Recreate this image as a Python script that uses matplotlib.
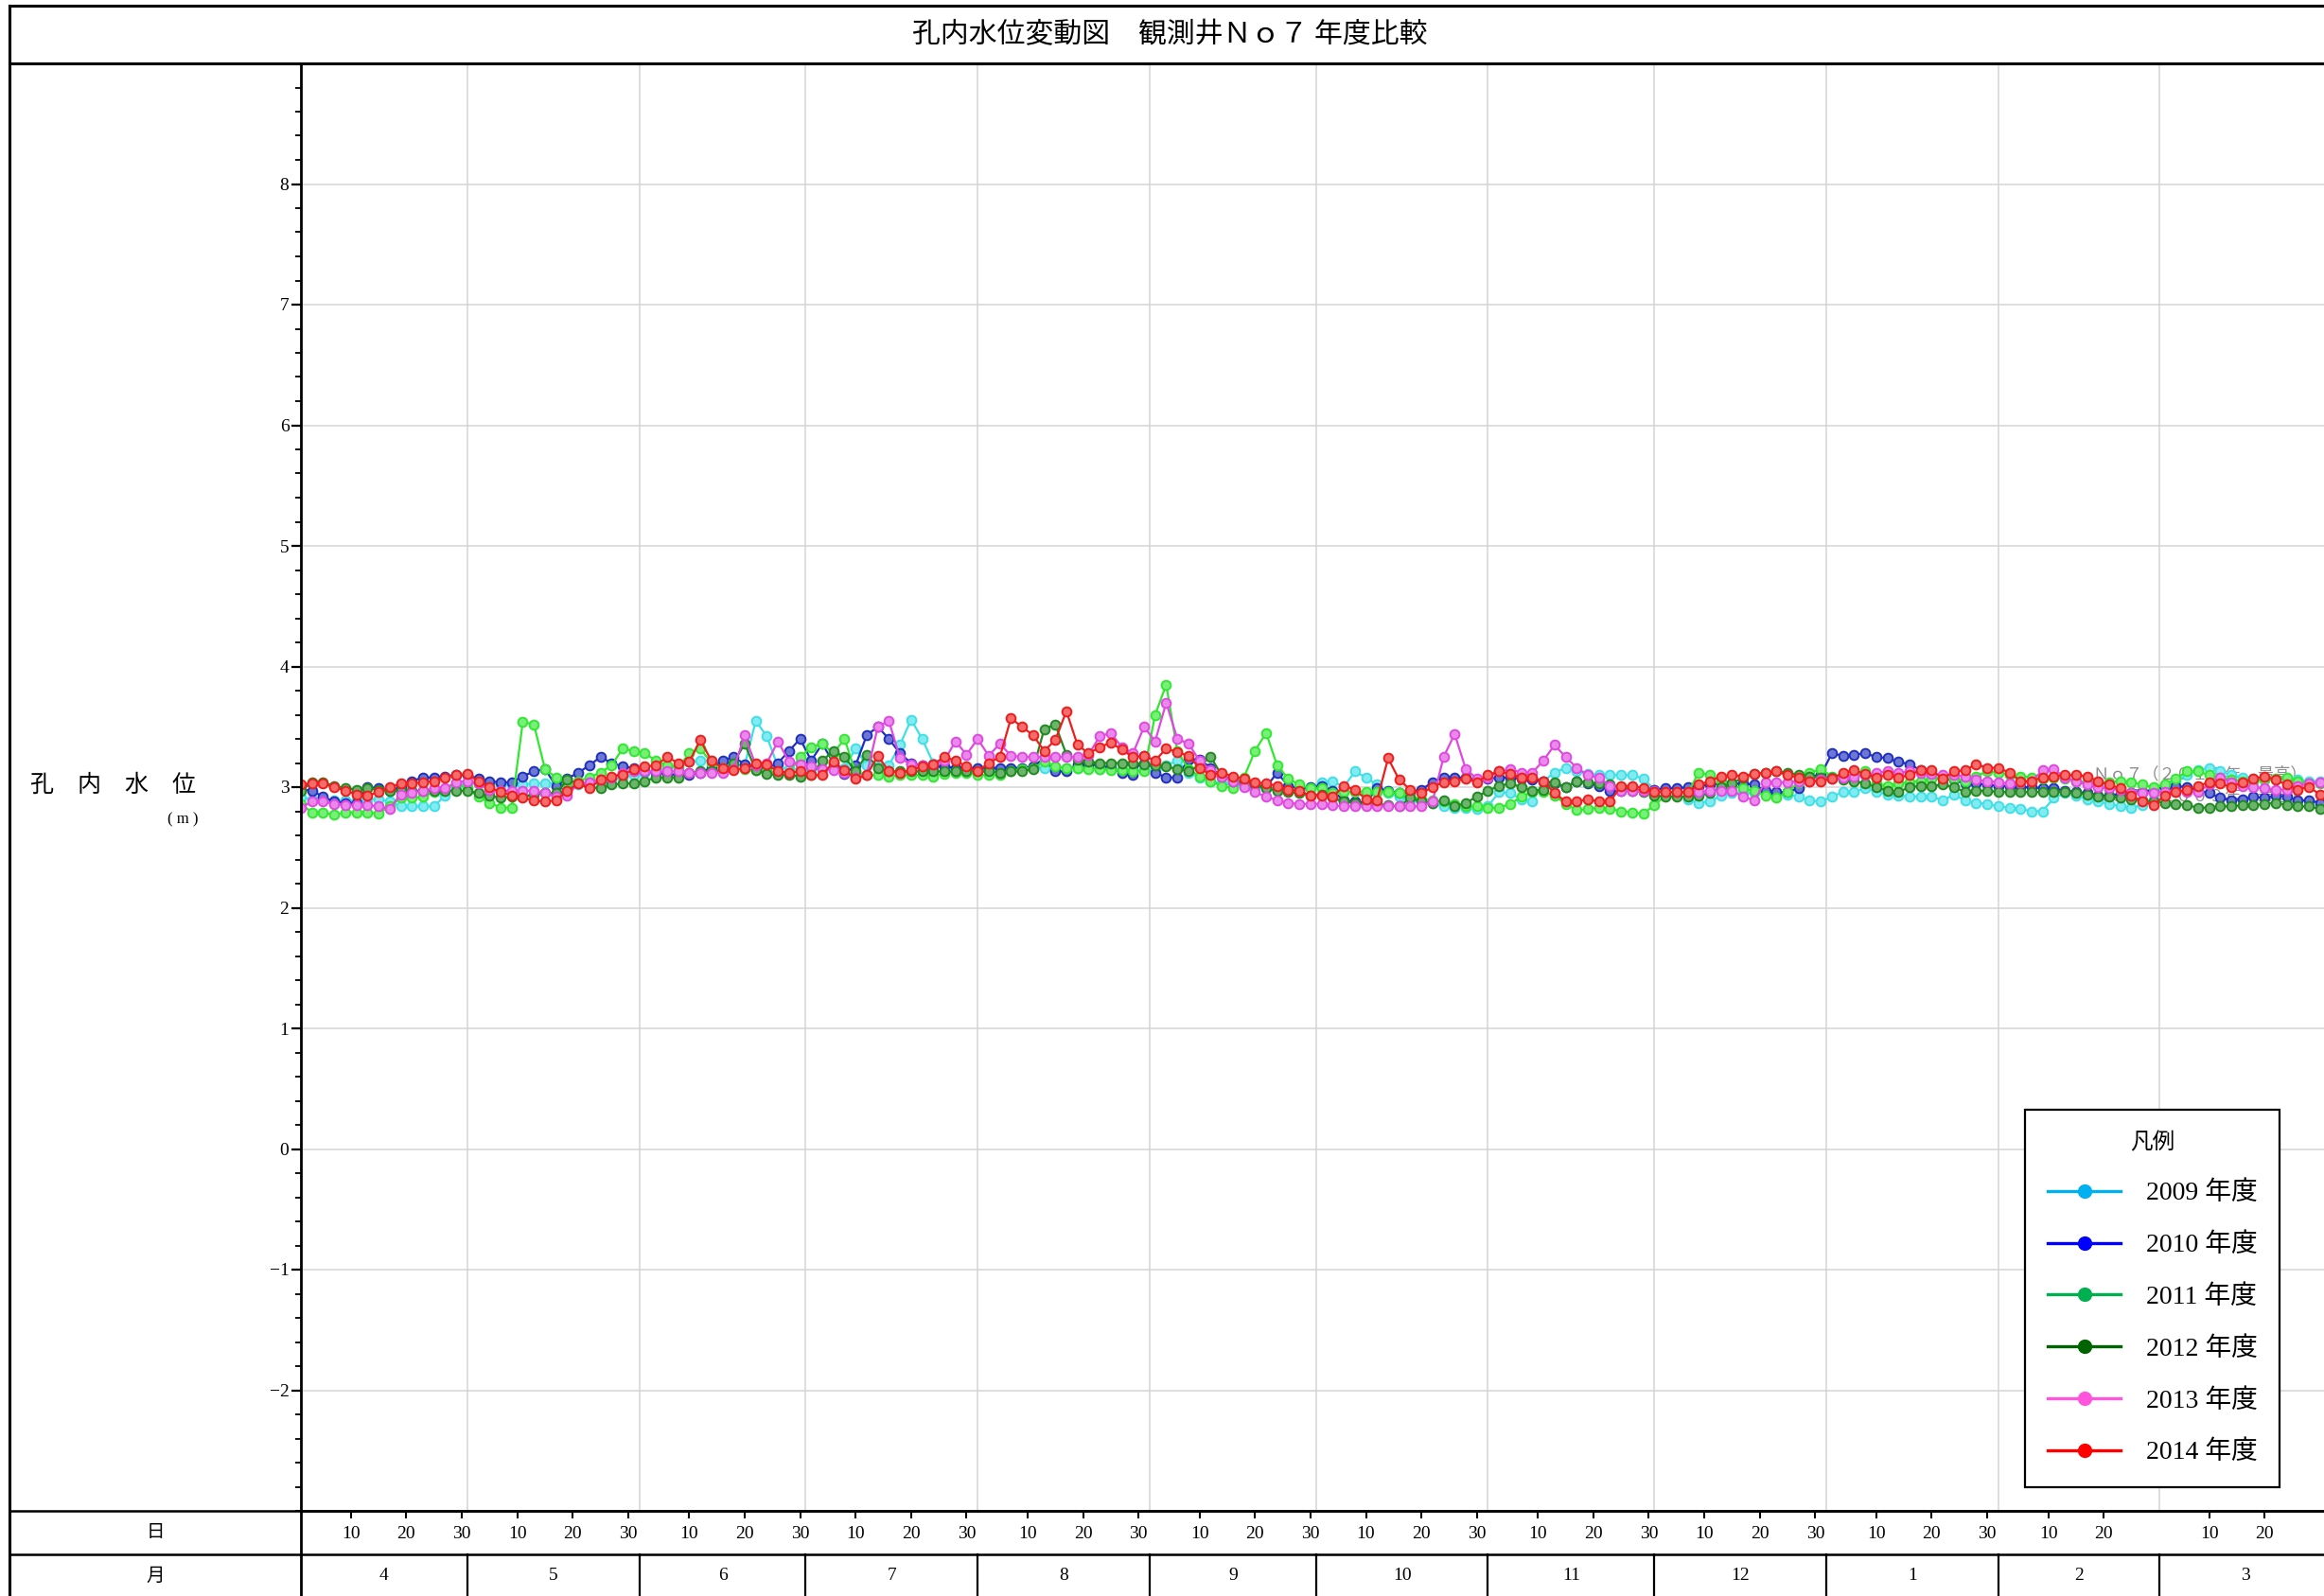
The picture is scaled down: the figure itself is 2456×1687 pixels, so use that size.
"""
Groundwater level comparison chart, observation well No.7, fiscal years 2009-2014.
"""

import matplotlib
matplotlib.use("Agg")
import matplotlib.pyplot as plt
import numpy as np
from matplotlib.colors import to_rgb
from matplotlib.lines import Line2D
from matplotlib.ticker import MultipleLocator
from matplotlib.transforms import blended_transform_factory

plt.rcParams["font.family"] = ["Liberation Serif", "Noto Sans CJK JP", "DejaVu Sans"]
CJK = ["Noto Sans CJK JP", "DejaVu Sans"]

W, H = 2456, 1687

TITLE = "孔内水位変動図　観測井Ｎｏ７ 年度比較"
YLABEL = "孔　内　水　位"
YUNIT = "( m )"
MONTHS = ["4", "5", "6", "7", "8", "9", "10", "11", "12", "1", "2", "3"]
MONTH_DAYS = [30, 31, 30, 31, 31, 30, 31, 30, 31, 31, 29, 31]
DAY_MARKS = [10, 20, 30]
YEARS = ["2009 年度", "2010 年度", "2011 年度", "2012 年度", "2013 年度", "2014 年度"]

# readings every second day from 1 April (day 0) to 30 March (day 364)
level_2009 = [
    2.91, 2.90, 2.90, 2.89, 2.89, 2.89, 2.90, 2.90, 2.88, 2.84,
    2.84, 2.84, 2.84, 2.93, 3.01, 3.03, 3.03, 3.03, 3.02, 3.02,
    3.02, 3.03, 3.03, 3.03, 3.00, 3.02, 3.03, 3.04, 3.06, 3.08,
    3.10, 3.12, 3.14, 3.16, 3.18, 3.21, 3.22, 3.22, 3.19, 3.18,
    3.18, 3.55, 3.42, 3.17, 3.15, 3.15, 3.15, 3.15, 3.15, 3.16,
    3.32, 3.18, 3.18, 3.18, 3.35, 3.56, 3.40, 3.20, 3.16, 3.15,
    3.15, 3.15, 3.15, 3.15, 3.15, 3.15, 3.16, 3.16, 3.16, 3.16,
    3.16, 3.16, 3.15, 3.15, 3.14, 3.14, 3.14, 3.14, 3.18, 3.22,
    3.12, 3.08, 3.05, 3.03, 3.02, 3.01, 3.00, 2.99, 2.98, 2.97,
    2.97, 2.99, 3.04, 3.05, 3.00, 3.13, 3.08, 3.02, 2.95, 2.92,
    2.89, 2.88, 2.87, 2.84, 2.83, 2.83, 2.82, 2.84, 2.96, 2.95,
    2.90, 2.88, 3.05, 3.12, 3.16, 3.13, 3.11, 3.10, 3.10, 3.10,
    3.10, 3.07, 2.98, 2.96, 2.95, 2.90, 2.87, 2.88, 2.93, 2.95,
    2.95, 2.95, 2.95, 2.95, 2.94, 2.92, 2.89, 2.88, 2.92, 2.96,
    2.96, 2.99, 2.96, 2.94, 2.93, 2.92, 2.92, 2.92, 2.89, 2.94,
    2.89, 2.87, 2.86, 2.84, 2.83, 2.82, 2.80, 2.80, 2.91, 2.95,
    2.93, 2.90, 2.88, 2.86, 2.84, 2.83, 2.85, 2.90, 2.97, 3.05,
    3.10, 3.14, 3.16, 3.13, 3.10, 3.08, 3.07, 3.06, 3.06, 3.07,
    3.06, 3.05, 3.05,
]
level_2010 = [
    2.98, 2.97, 2.92, 2.88, 2.87, 2.87, 3.00, 2.99, 2.97, 3.00,
    3.05, 3.08, 3.08, 3.09, 3.10, 3.10, 3.07, 3.05, 3.04, 3.04,
    3.09, 3.13, 3.15, 3.01, 3.07, 3.12, 3.18, 3.25, 3.20, 3.17,
    3.16, 3.13, 3.12, 3.11, 3.10, 3.10, 3.12, 3.16, 3.22, 3.25,
    3.19, 3.16, 3.16, 3.20, 3.30, 3.40, 3.22, 3.36, 3.20, 3.11,
    3.18, 3.43, 3.50, 3.40, 3.28, 3.20, 3.18, 3.17, 3.17, 3.16,
    3.16, 3.16, 3.16, 3.16, 3.16, 3.16, 3.17, 3.24, 3.13, 3.13,
    3.19, 3.19, 3.18, 3.16, 3.12, 3.10, 3.26, 3.12, 3.08, 3.08,
    3.23, 3.23, 3.16, 3.09, 3.06, 3.04, 3.02, 3.00, 3.12, 3.01,
    2.99, 3.00, 3.01, 2.97, 2.89, 2.88, 2.87, 2.99, 2.97, 2.95,
    2.96, 2.98, 3.04, 3.08, 3.08, 3.08, 3.06, 3.07, 3.08, 3.08,
    3.07, 3.06, 3.05, 3.03, 3.00, 3.05, 3.03, 3.01, 2.97, 2.97,
    2.97, 2.98, 2.98, 2.99, 2.99, 3.00, 3.01, 3.02, 3.03, 3.03,
    3.03, 3.02, 2.97, 2.96, 2.96, 2.99, 3.09, 3.10, 3.28, 3.26,
    3.27, 3.28, 3.25, 3.24, 3.21, 3.19, 3.14, 3.08, 3.07, 3.06,
    3.03, 3.03, 3.02, 3.01, 3.01, 3.00, 3.00, 2.99, 2.99, 2.97,
    2.96, 2.95, 2.93, 2.93, 2.94, 2.95, 2.96, 2.98, 3.00, 3.01,
    3.00, 2.97, 2.95, 2.91, 2.89, 2.90, 2.92, 2.91, 2.93, 2.92,
    2.89, 2.89, 2.87,
]
level_2011 = [
    2.86, 2.79, 2.79, 2.77, 2.79, 2.79, 2.79, 2.78, 2.84, 2.91,
    2.91, 2.92, 2.96, 2.97, 3.03, 2.99, 2.92, 2.87, 2.83, 2.83,
    3.54, 3.52, 3.15, 3.08, 3.04, 3.05, 3.08, 3.12, 3.18, 3.32,
    3.30, 3.28, 3.22, 3.18, 3.16, 3.28, 3.32, 3.20, 3.16, 3.15,
    3.15, 3.14, 3.13, 3.12, 3.12, 3.25, 3.33, 3.36, 3.28, 3.40,
    3.12, 3.10, 3.10, 3.09, 3.10, 3.10, 3.10, 3.09, 3.11, 3.12,
    3.12, 3.10, 3.10, 3.10, 3.13, 3.15, 3.16, 3.21, 3.17, 3.16,
    3.16, 3.15, 3.15, 3.14, 3.14, 3.13, 3.13, 3.60, 3.85, 3.30,
    3.15, 3.09, 3.05, 3.01, 2.99, 3.08, 3.30, 3.45, 3.18, 3.07,
    3.02, 2.99, 2.99, 2.95, 2.96, 2.96, 2.96, 2.96, 2.96, 2.95,
    2.92, 2.90, 2.89, 2.88, 2.86, 2.84, 2.84, 2.83, 2.83, 2.86,
    2.92, 2.96, 2.96, 2.93, 2.86, 2.81, 2.82, 2.83, 2.82, 2.80,
    2.79, 2.78, 2.85, 2.93, 2.95, 2.95, 3.12, 3.10, 3.05, 3.01,
    2.99, 2.97, 2.93, 2.91, 2.96, 3.04, 3.12, 3.15, 3.09, 3.09,
    3.09, 3.13, 3.03, 3.01, 3.03, 3.04, 3.05, 3.07, 3.08, 3.07,
    3.05, 3.09, 3.13, 3.12, 3.10, 3.09, 3.08, 3.07, 3.08, 3.07,
    3.05, 3.04, 3.03, 3.04, 3.05, 3.04, 3.02, 3.00, 3.02, 3.07,
    3.13, 3.13, 3.10, 3.08, 3.06, 3.05, 3.05, 3.06, 3.07, 3.08,
    3.05, 3.03, 3.03,
]
level_2012 = [
    2.97, 3.04, 3.04, 3.01, 2.99, 2.98, 2.99, 2.98, 2.97, 2.97,
    2.97, 2.97, 2.97, 2.97, 2.97, 2.97, 2.95, 2.93, 2.91, 2.92,
    2.92, 2.94, 2.95, 2.95, 3.06, 3.03, 3.00, 2.99, 3.02, 3.03,
    3.03, 3.05, 3.08, 3.08, 3.08, 3.12, 3.13, 3.13, 3.14, 3.20,
    3.36, 3.14, 3.11, 3.10, 3.10, 3.09, 3.10, 3.22, 3.30, 3.25,
    3.13, 3.27, 3.16, 3.13, 3.13, 3.13, 3.13, 3.13, 3.13, 3.13,
    3.13, 3.13, 3.13, 3.12, 3.13, 3.13, 3.15, 3.48, 3.52, 3.27,
    3.23, 3.21, 3.20, 3.20, 3.20, 3.20, 3.19, 3.18, 3.17, 3.15,
    3.13, 3.18, 3.25, 3.10, 3.05, 3.04, 3.02, 2.99, 2.97, 2.96,
    2.95, 2.93, 2.94, 2.91, 2.88, 2.87, 2.86, 2.86, 2.85, 2.84,
    2.91, 2.88, 2.87, 2.89, 2.84, 2.87, 2.92, 2.97, 3.01, 3.03,
    3.00, 2.97, 2.98, 3.04, 3.00, 3.05, 3.04, 3.03, 3.02, 3.00,
    2.98, 2.96, 2.93, 2.92, 2.92, 2.92, 2.93, 2.95, 3.00, 3.03,
    3.08, 3.11, 3.12, 3.13, 3.12, 3.10, 3.09, 3.08, 3.08, 3.06,
    3.05, 3.03, 3.00, 2.97, 2.96, 3.00, 3.01, 3.01, 3.02, 3.00,
    2.96, 2.97, 2.97, 2.96, 2.96, 2.96, 2.96, 2.96, 2.96, 2.96,
    2.95, 2.94, 2.92, 2.92, 2.91, 2.90, 2.89, 2.88, 2.87, 2.86,
    2.85, 2.83, 2.83, 2.84, 2.84, 2.85, 2.85, 2.86, 2.87, 2.85,
    2.84, 2.84, 2.82,
]
level_2013 = [
    2.83, 2.88, 2.88, 2.86, 2.85, 2.85, 2.85, 2.84, 2.82, 2.94,
    2.95, 2.97, 2.99, 2.99, 3.04, 3.05, 3.03, 2.98, 2.97, 2.97,
    2.97, 2.97, 2.95, 2.92, 2.93, 3.03, 3.04, 3.06, 3.08, 3.12,
    3.13, 3.13, 3.13, 3.13, 3.13, 3.12, 3.12, 3.12, 3.12, 3.15,
    3.43, 3.18, 3.20, 3.38, 3.21, 3.19, 3.17, 3.15, 3.14, 3.12,
    3.08, 3.10, 3.50, 3.55, 3.24, 3.19, 3.18, 3.19, 3.22, 3.38,
    3.27, 3.40, 3.26, 3.36, 3.26, 3.25, 3.25, 3.25, 3.25, 3.25,
    3.25, 3.27, 3.42, 3.45, 3.33, 3.28, 3.50, 3.38, 3.70, 3.40,
    3.36, 3.22, 3.14, 3.09, 3.05, 3.00, 2.96, 2.92, 2.89, 2.87,
    2.86, 2.86, 2.86, 2.85, 2.84, 2.84, 2.84, 2.84, 2.84, 2.84,
    2.84, 2.84, 2.88, 3.25, 3.44, 3.15, 3.07, 3.08, 3.13, 3.15,
    3.12, 3.12, 3.22, 3.35, 3.25, 3.16, 3.10, 3.08, 3.01, 2.97,
    2.97, 2.97, 2.97, 2.96, 2.96, 2.96, 2.96, 2.97, 2.97, 2.97,
    2.92, 2.89, 3.04, 3.04, 3.04, 3.05, 3.05, 3.06, 3.07, 3.08,
    3.09, 3.10, 3.12, 3.13, 3.12, 3.13, 3.12, 3.11, 3.10, 3.10,
    3.09, 3.06, 3.05, 3.04, 3.03, 3.04, 3.05, 3.14, 3.15, 3.08,
    3.05, 3.02, 3.00, 2.99, 2.98, 2.95, 2.95, 2.95, 2.96, 2.96,
    2.96, 2.96, 3.02, 3.08, 3.04, 3.01, 3.00, 2.99, 2.98, 2.98,
    3.01, 3.03, 3.04,
]
level_2014 = [
    3.02, 3.03, 3.03, 3.00, 2.97, 2.94, 2.93, 2.96, 3.00, 3.03,
    3.03, 3.04, 3.05, 3.08, 3.10, 3.11, 3.05, 3.00, 2.96, 2.93,
    2.91, 2.89, 2.88, 2.89, 2.97, 3.03, 2.99, 3.06, 3.09, 3.10,
    3.15, 3.17, 3.18, 3.25, 3.20, 3.21, 3.39, 3.22, 3.16, 3.14,
    3.16, 3.20, 3.19, 3.13, 3.12, 3.13, 3.10, 3.10, 3.21, 3.14,
    3.07, 3.10, 3.26, 3.13, 3.12, 3.14, 3.17, 3.19, 3.25, 3.22,
    3.17, 3.13, 3.20, 3.25, 3.57, 3.50, 3.43, 3.30, 3.39, 3.63,
    3.35, 3.28, 3.33, 3.37, 3.31, 3.25, 3.26, 3.22, 3.32, 3.29,
    3.26, 3.16, 3.10, 3.12, 3.09, 3.07, 3.04, 3.03, 3.01, 2.98,
    2.97, 2.93, 2.93, 2.92, 3.01, 2.98, 2.90, 2.89, 3.24, 3.06,
    2.98, 2.95, 3.00, 3.04, 3.05, 3.07, 3.04, 3.10, 3.13, 3.11,
    3.08, 3.08, 3.05, 2.95, 2.88, 2.88, 2.90, 2.88, 2.88, 3.01,
    3.01, 2.99, 2.96, 2.96, 2.96, 2.96, 3.02, 3.05, 3.09, 3.10,
    3.09, 3.11, 3.12, 3.13, 3.10, 3.08, 3.05, 3.05, 3.07, 3.12,
    3.14, 3.11, 3.08, 3.10, 3.08, 3.10, 3.14, 3.14, 3.07, 3.13,
    3.14, 3.19, 3.16, 3.16, 3.12, 3.05, 3.05, 3.08, 3.09, 3.10,
    3.10, 3.09, 3.05, 3.02, 2.99, 2.93, 2.88, 2.85, 2.93, 2.96,
    2.98, 3.01, 3.04, 3.03, 3.00, 3.04, 3.07, 3.09, 3.06, 3.02,
    2.98, 3.00, 2.94,
]

LEVELS = [level_2009, level_2010, level_2011, level_2012, level_2013, level_2014]
LINE_COLORS = ["#3ee0e8", "#1f2fbf", "#30e830", "#1f8a1f", "#e048e0", "#ee1d1d"]
LEGEND_COLORS = ["#00b0f0", "#0000ff", "#00b050", "#006400", "#ff55dd", "#ff0000"]


def fx(px):
    return px / W


def fy(py):
    return 1 - py / H


def lighten(color, amount=0.35):
    r, g, b = to_rgb(color)
    return (r + (1 - r) * amount, g + (1 - g) * amount, b + (1 - b) * amount)


fig = plt.figure(figsize=(W / 100, H / 100), dpi=100)

# plot area; the scan cuts the frame just before the end of March
ax = fig.add_axes([fx(318), fy(1597), (2463.5 - 318) / W, (1597 - 67) / H])

days = np.arange(0, 366, 2)
for level, color in zip(LEVELS, LINE_COLORS):
    ax.plot(days, level, color=color, lw=1.6, marker="o", ms=7,
            mfc=lighten(color), mec=color, mew=1.4, zorder=2)

month_start = np.concatenate([[0], np.cumsum(MONTH_DAYS)[:-1]])

ax.set_xlim(0, sum(MONTH_DAYS))
ax.set_ylim(-3, 9)
ax.set_yticks(range(-2, 9))
ax.yaxis.set_minor_locator(MultipleLocator(0.2))
ax.tick_params(axis="y", which="major", length=7, width=1.6, labelsize=14, pad=2)
ax.tick_params(axis="y", which="minor", length=4, width=1.3)

tick_pos, tick_lab = [], []
for start, ndays in zip(month_start, MONTH_DAYS):
    for dm in DAY_MARKS:
        # the last March tick falls off the scanned sheet
        if dm <= ndays and start + dm - 1 < 362:
            tick_pos.append(start + dm - 1)
            tick_lab.append(str(dm))
ax.set_xticks(tick_pos)
ax.set_xticks(month_start[1:], minor=True)
ax.tick_params(axis="x", which="major", direction="out", length=6, width=1.5, labelbottom=False)
ax.tick_params(axis="x", which="minor", length=0)

ax.grid(True, which="minor", axis="x", color="#d4d4d4", lw=1.1)
ax.grid(True, which="major", axis="y", color="#d4d4d4", lw=1.1)
ax.set_axisbelow(True)

for side in ["top", "right"]:
    ax.spines[side].set_visible(False)
ax.spines["left"].set_linewidth(2.0)
ax.spines["bottom"].set_linewidth(1.8)

# faint sheet notes behind the lines
ax.text(fx(2212), fy(818), "Ｎｏ７（２０１３年　最高）", transform=fig.transFigure,
        family=CJK, fontsize=12.5, color="#8c8c8c", va="center", zorder=1)
ax.text(fx(2212), fy(842), "Ｎｏ７（２００９年　最低）", transform=fig.transFigure,
        family=CJK, fontsize=12.5, color="#8c8c8c", va="center", zorder=1)


# table frame around the chart
def frame_line(xs, ys, lw=1.7):
    fig.add_artist(Line2D([fx(x) for x in xs], [fy(y) for y in ys], color="black",
                          lw=lw, transform=fig.transFigure))


frame_line([9.5, W + 5], [6, 6], lw=2.2)
frame_line([9.5, 9.5], [6, H + 5], lw=2.2)
frame_line([9.5, W + 5], [67, 67], lw=2.2)
frame_line([318, 318], [1597, H + 5], lw=2.0)
frame_line([9.5, W + 5], [1597, 1597], lw=1.8)
frame_line([9.5, W + 5], [1643, 1643], lw=1.8)

blend = blended_transform_factory(ax.transData, fig.transFigure)
for start in month_start[1:]:
    ax.add_line(Line2D([start, start], [fy(1643), 0], transform=blend, color="black",
                       lw=1.6, clip_on=False))

for pos, lab in zip(tick_pos, tick_lab):
    ax.text(pos, fy(1621), lab, transform=blend, ha="center", va="center", fontsize=14)
for start, ndays, lab in zip(month_start, MONTH_DAYS, MONTHS):
    ax.text(start + ndays / 2, fy(1665), lab, transform=blend, ha="center", va="center",
            fontsize=14)

fig.text(fx(1236), fy(37), TITLE, ha="center", va="center", fontsize=21.5, family=CJK)
fig.text(fx(119), fy(830), YLABEL, ha="center", va="center", fontsize=18, family=CJK)
fig.text(fx(193), fy(866), YUNIT, ha="center", va="center", fontsize=12)
fig.text(fx(164), fy(1620), "日", ha="center", va="center", fontsize=14, family=CJK)
fig.text(fx(164), fy(1665), "月", ha="center", va="center", fontsize=14, family=CJK)

handles = [Line2D([], [], color=c, lw=2.4, marker="o", ms=10, mfc=c, mec=c)
           for c in LEGEND_COLORS]
leg = ax.legend(handles, YEARS, title="凡例", loc="upper left",
                bbox_to_anchor=(fx(2140), fy(1173)), bbox_transform=fig.transFigure,
                fontsize=20, title_fontsize=17, frameon=True, fancybox=False,
                edgecolor="black", framealpha=1, borderpad=0.85, labelspacing=1.05,
                handlelength=2.8, handletextpad=0.95, borderaxespad=0)
leg.get_frame().set_linewidth(1.6)
leg.get_title().set_family(CJK)

fig.savefig("out.png", dpi=100)
print("Plot saved to: out.png")
